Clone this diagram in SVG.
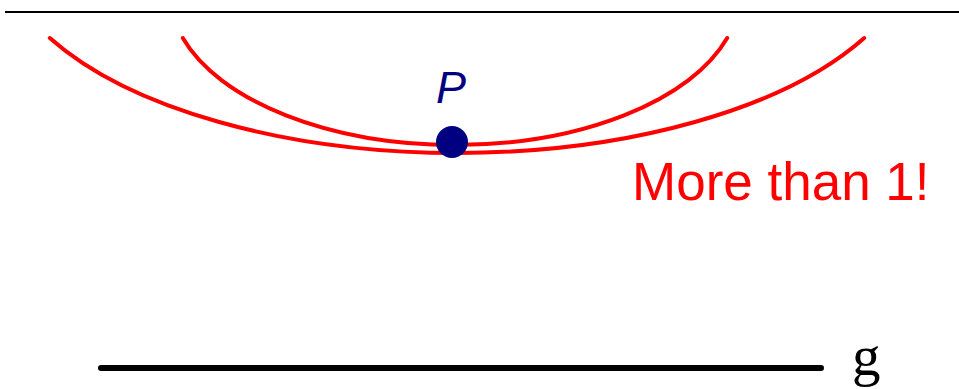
<svg xmlns="http://www.w3.org/2000/svg" width="959" height="389" viewBox="0 0 959 389">
<style>
.curve{fill:none;stroke:#ff0000;stroke-width:4;stroke-linecap:round}
.blk{stroke:#000;fill:none}
.lbl{font-family:"Liberation Sans",Arial,sans-serif}
</style>
<rect width="959" height="389" fill="#fff"/>
<g id="frame">
<line class="blk" x1="5" y1="12" x2="959" y2="12" stroke-width="2"/>
</g>
<g id="connectors">
<path id="outer-curve" class="curve" d="M 49.8 38 A 460 215 0 0 0 864.2 38"/>
<path id="inner-curve" class="curve" d="M 182.8 38 A 285 152 0 0 0 727.2 38"/>
</g>
<g id="line-g">
<line class="blk" x1="101" y1="368" x2="821" y2="368" stroke-width="6" stroke-linecap="round"/>
<text x="852" y="375" font-family="'Liberation Serif','Times New Roman',serif" font-size="57" fill="#000">g</text>
</g>
<g id="point-P">
<circle cx="452" cy="142" r="16" fill="#000080"/>
<text class="lbl" x="436" y="103" font-size="45" font-style="italic" fill="#000080">P</text>
</g>
<g id="label">
<text class="lbl" x="632" y="200" font-size="53" fill="#ff0000">More than 1!</text>
</g>
</svg>
